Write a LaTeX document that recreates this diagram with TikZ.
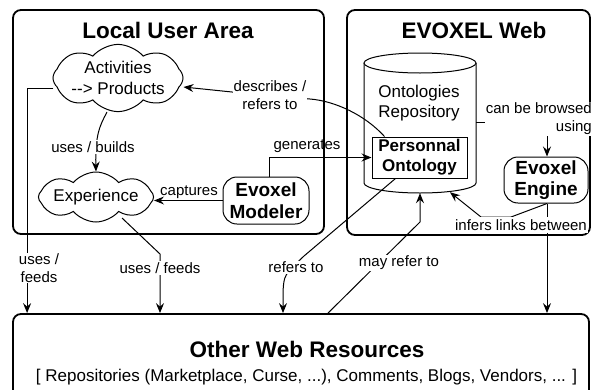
\documentclass[tikz,border=0pt]{standalone}
\usepackage{fontspec}
\setmainfont{Liberation Sans}
\usetikzlibrary{arrows.meta,shapes.symbols,calc}
\tikzset{
  area/.style={draw, line width=1.8pt, rounded corners=8pt, fill=white, inner sep=0pt},
  ttl/.style={font=\bfseries\fontsize{22.5}{27}\selectfont, inner sep=0pt},
  txt/.style={font=\fontsize{17}{20}\selectfont, align=center, inner sep=0pt},
  lbl/.style={font=\fontsize{15}{17.5}\selectfont, fill=white, inner sep=1pt, align=center},
  bnode/.style={draw, line width=1pt, fill=white, font=\bfseries\fontsize{19}{21.5}\selectfont, align=center, inner sep=0pt},
  cld/.style={cloud, cloud puffs=8, cloud puff arc=100, cloud ignores aspect, draw, line width=1pt, fill=white, inner sep=0pt, font=\fontsize{17}{21}\selectfont, align=center},
  arr/.style={-{Stealth[length=10pt,width=8pt,inset=3.5pt]}, line width=1pt},
  ln/.style={line width=1pt}
}
\begin{document}
\begin{tikzpicture}[x=1pt,y=-1pt]
\useasboundingbox (0,0) rectangle (592,389);
\clip (0,0) rectangle (592,389);
\fill[white] (0,0) rectangle (592,389);

% areas
\node[area, minimum width=311pt, minimum height=224pt] (lua) at (168.5,122) {};
\node[area, minimum width=243pt, minimum height=225pt] (web) at (468.5,122.5) {};
\node[area, minimum width=576pt, minimum height=96pt] (other) at (301,362) {};
\node[ttl] (t1) at (168,30) {Local User Area};
\node[ttl] (t2) at (474,30) {EVOXEL Web};
\node[ttl] (t3) at (307,349) {Other Web Resources};
\node[txt] (t4) at (306.5,377) {[ Repositories (Marketplace, Curse, ...), Comments, Blogs, Vendors, ... ]};

% cylinder
\node[minimum width=112pt, minimum height=140pt, inner sep=0pt] (repo) at (420,123) {};
\draw[line width=1pt, fill=white] (364,63) -- (364,183) arc[start angle=180, end angle=360, x radius=56pt, y radius=10pt] -- (476,63);
\draw[line width=1pt, fill=white] (420,63) ellipse [x radius=56pt, y radius=10pt];
\node[txt] (repotxt) at (419,103) {Ontologies\\Repository};

% nodes
\node[cld, minimum width=121pt, minimum height=57pt] (act) at (118,78) {Activities\\-\kern0pt-\kern0pt> Products};
\node[cld, minimum width=105pt, minimum height=50pt] (exp) at (96,197) {Experience};
\node[bnode, rounded corners=14pt, minimum width=86pt, minimum height=47pt] (mod) at (266,200.5) {Evoxel\\Modeler};
\node[bnode, font=\bfseries\fontsize{17}{20}\selectfont, minimum width=95pt, minimum height=41pt] (po) at (419.5,157.5) {Personnal\\Ontology};
\node[bnode, rounded corners=14pt, minimum width=84pt, minimum height=46pt] (eng) at (546,180) {Evoxel\\Engine};

% helper points
\coordinate (engb) at ($(eng.south)+(1,0)$);
\coordinate (engo) at (engb |- other.north);

% connectors
\draw[arr] ($(act.west)+(1,10)$) -| ($(other.north west)+(15,0)$);
\draw[arr] ($(act.south)+(-11,0)$) .. controls (100,125) and (95,135) .. (exp.north);
\draw[arr] ($(exp.center)+(26,21)$) -- (160,254) -- (160,0 |- other.north);
\draw[arr] (mod.west) -- (mod.west -| exp.east);
\draw[arr] ($(mod.north)+(3,0)$) |- (po.west);
\draw[arr] ($(po.north west)+(13,0)$) .. controls (365,115) and (335,101) .. (310,99) -- (232,92) -- ($(act.east)+(0,9)$);
\draw[arr] (repo.east |- 0,122) -| ($(eng.north)+(1,0)$);
\draw[arr] (engb) -- (511,217) -- (481,217) -- ($(repo.south)+(30,-1)$);
\draw[arr] (engb) -- (engo);
\draw[arr] ($(po.south)+(-24,0)$) -- (304,256) .. controls (284,275) .. (283,292) -- (283,0 |- other.north);
\draw[arr] ($(other.north)+(27,0)$) -- (420,222) -- (repo.south);

% labels
\node[lbl] (l1) at (39,268) {uses /\\feeds};
\node[lbl] (l2) at (93,147) {uses / builds};
\node[lbl] (l3) at (160,268) {uses / feeds};
\node[lbl, fill=none] (l4) at (189,192) {captures};
\node[lbl, fill=none] (l5) at (307,146) {generates};
\node[lbl] (l6) at (270,95) {describes /\\refers to};
\node[lbl, align=right, anchor=east, font=\fontsize{15}{18}\selectfont] (l7) at (593,119) {can be browsed\\using};
\node[lbl, inner ysep=2pt] (l8) at (521,225) {infers links between};
\node[lbl] (l9) at (296,267) {refers to};
\node[lbl] (l10) at (399,263) {may refer to};
\end{tikzpicture}
\end{document}
